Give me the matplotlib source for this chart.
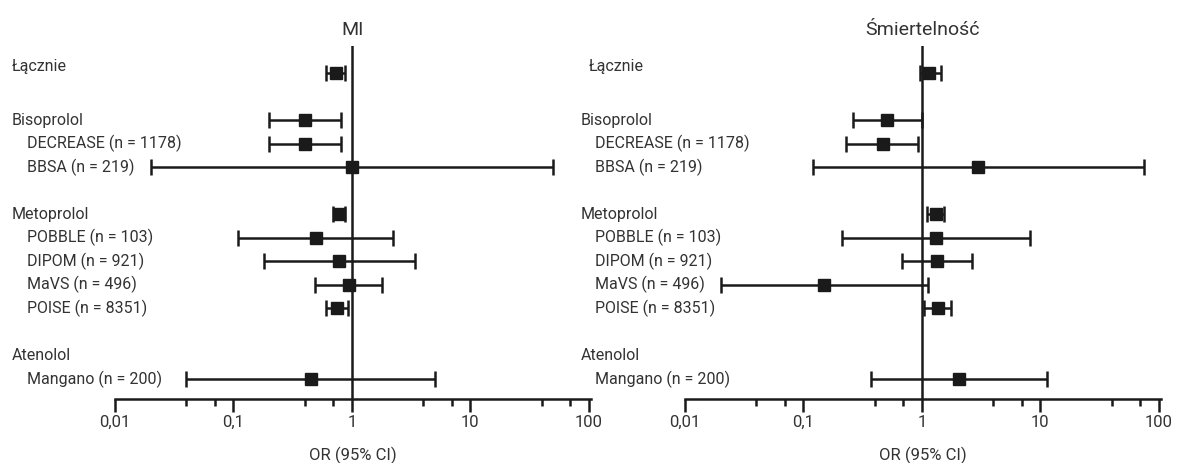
import numpy as np
import matplotlib
matplotlib.use("Agg")
import matplotlib.pyplot as plt
from matplotlib.transforms import blended_transform_factory

plt.rcParams['font.family'] = ['Roboto', 'DejaVu Sans']

# row labels and their vertical slots (blank slots between groups)
labels = ['Łącznie', 'Bisoprolol', 'DECREASE (n = 1178)', 'BBSA (n = 219)',
          'Metoprolol', 'POBBLE (n = 103)', 'DIPOM (n = 921)', 'MaVS (n = 496)',
          'POISE (n = 8351)', 'Atenolol', 'Mangano (n = 200)']
rows = [0, 2, 3, 4, 6, 7, 8, 9, 10, 12, 13]
is_sub = [False, False, True, True, False, True, True, True, True, False, True]

# MI: odds ratio with 95% CI
mi_or = [0.73, 0.40, 0.40, 1.0, 0.78, 0.50, 0.78, 0.94, 0.75, np.nan, 0.45]
mi_lo = [0.61, 0.20, 0.20, 0.02, 0.69, 0.11, 0.18, 0.49, 0.61, np.nan, 0.04]
mi_hi = [0.87, 0.81, 0.81, 50.0, 0.87, 2.24, 3.4, 1.79, 0.93, np.nan, 5.0]

# mortality
mort_or = [1.15, 0.51, 0.47, 3.0, 1.31, 1.31, 1.34, 0.15, 1.37, np.nan, 2.07]
mort_lo = [0.96, 0.26, 0.23, 0.12, 1.11, 0.21, 0.68, 0.02, 1.05, np.nan, 0.37]
mort_hi = [1.44, 1.0, 0.93, 75.0, 1.54, 8.2, 2.64, 1.13, 1.75, np.nan, 11.5]

ticks = [0.01, 0.1, 1, 10, 100]
tick_labels = ['0,01', '0,1', '1', '10', '100']
minor = [m * d for d in [0.01, 0.1, 1, 10] for m in (4, 7)]

W, H = 1177, 463
fig = plt.figure(figsize=(W / 100, H / 100), dpi=100)
ink = '#1a1a1a'
txt = '#333333'


def forest(left_px, title, orv, lo, hi, main_x, sub_x, first_x):
    ax = fig.add_axes([left_px / W, 64 / H, 476 / W, 353 / H])
    ax.set_xscale('log')
    ax.set_xlim(0.01, 10 ** 2.02)
    ax.set_ylim(13.85, -1.15)
    orv, lo, hi = np.array(orv), np.array(lo), np.array(hi)
    ax.errorbar(orv, rows, xerr=[orv - lo, hi - orv], fmt='s', color=ink,
                ms=8.5, elinewidth=1.8, capsize=5.5, capthick=1.8)
    ax.axvline(1, color=ink, lw=1.8)

    for s in ['left', 'right', 'top']:
        ax.spines[s].set_visible(False)
    ax.spines['bottom'].set_linewidth(1.8)
    ax.spines['bottom'].set_color(ink)
    ax.set_yticks([])
    ax.set_xticks(ticks)
    ax.set_xticklabels(tick_labels)
    ax.set_xticks(minor, minor=True)
    ax.tick_params(axis='x', which='major', length=9, width=1.8, color=ink,
                   labelsize=12, labelcolor=txt, pad=2.5)
    ax.tick_params(axis='x', which='minor', length=5, width=1.8, color=ink,
                   labelbottom=False)
    ax.set_xlabel('OR (95% CI)', fontsize=12, color=txt, labelpad=12)
    ax.set_title(title, fontsize=14, color=txt, pad=8)

    tr = blended_transform_factory(fig.transFigure, ax.transData)
    for i, (lab, r, sub) in enumerate(zip(labels, rows, is_sub)):
        x = sub_x if sub else main_x
        y = r
        if i == 0:
            x = first_x
            y = r - 0.3
        ax.text(x / W, y, lab, transform=tr, fontsize=11.5, color=txt,
                va='center', ha='left')
    return ax


forest(115, 'MI', mi_or, mi_lo, mi_hi, 12, 27, 12)
forest(685, 'Śmiertelność', mort_or, mort_lo, mort_hi, 581, 595, 589)

fig.savefig('out.png', dpi=100)
